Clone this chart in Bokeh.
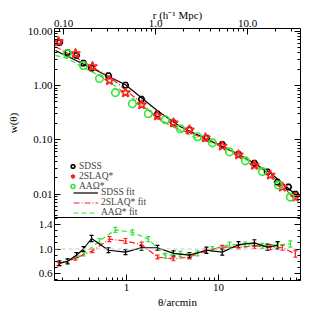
import math
from bokeh.plotting import figure
from bokeh.layouts import column
from bokeh.models import (LogAxis, LinearAxis, Range1d, LogScale, FixedTicker,
                          Legend, LegendItem, Span, Whisker, ColumnDataSource, Label, TeeHead)
from bokeh.embed import file_html
from bokeh.resources import INLINE

FONT = "Liberation Serif"
BLACK = "#000000"
RED = "#ff2020"
GREEN = "#33e633"

# ---------------- data ----------------
# SDSS
sdss_theta = [0.187, 0.229, 0.286, 0.341, 0.417, 0.637, 0.975, 1.456, 2.17, 3.24, 4.84,
              7.41, 11.0, 16.5, 24.6, 34.1, 43.8, 57.7, 68.7]
sdss_w = [6.2, 4.1, 3.6, 2.6, 2.1, 1.52, 1.02, 0.56, 0.30, 0.206, 0.153, 0.108, 0.082,
          0.054, 0.037, 0.0256, 0.0166, 0.0135, 0.0100]
sdss_ratio_theta = [0.187, 0.229, 0.286, 0.341, 0.417, 0.637, 0.975, 1.456, 2.17, 3.24,
                    4.84, 7.41, 11.0, 16.5, 24.6, 34.1, 43.8]
sdss_ratio = [0.77, 0.80, 0.90, 1.00, 1.17, 0.98, 0.95, 1.02, 1.02, 0.93, 0.90, 0.98, 0.95,
              1.07, 1.10, 1.03, 1.06]
sdss_ratio_err = [0.04, 0.04, 0.04, 0.04, 0.05, 0.04, 0.04, 0.04, 0.04, 0.04, 0.04, 0.05,
                  0.05, 0.05, 0.05, 0.05, 0.06]
sdss_fit_theta = [0.169, 0.406, 0.975, 2.17, 3.86, 8.18, 19.6, 36.7, 72.0]
sdss_fit_w = [4.45, 2.15, 1.04, 0.344, 0.174, 0.0958, 0.0464, 0.0245, 0.0092]

# 2SLAQ*
slaq_theta = [0.182, 0.279, 0.427, 0.653, 0.975, 1.46, 2.17, 3.24, 4.84, 7.22, 11.0, 16.5,
              24.6, 36.7, 49.6, 68.7]
slaq_w = [6.53, 3.91, 2.25, 1.24, 0.74, 0.445, 0.278, 0.206, 0.153, 0.109, 0.077, 0.053,
          0.034, 0.0225, 0.0135, 0.0088]
slaq_ratio = [0.76, 0.85, 0.97, 1.16, 1.13, 1.07, 0.87, 0.84, 0.87, 0.97, 1.03, 1.03, 1.05,
              1.03, 1.02, 0.92]
slaq_ratio_err = [0.03, 0.03, 0.03, 0.04, 0.04, 0.04, 0.03, 0.03, 0.03, 0.03, 0.03, 0.03,
                  0.04, 0.04, 0.04, 0.05]
slaq_fit_theta = [0.169, 0.279, 0.427, 0.653, 0.975, 1.46, 2.17, 3.24, 4.84, 7.22, 11.0, 16.5,
                  24.6, 36.7, 49.6, 68.7]
slaq_fit_w = [5.2, 3.32, 2.18, 1.44, 0.84, 0.476, 0.242, 0.173, 0.133, 0.106, 0.079, 0.055,
              0.036, 0.023, 0.0138, 0.0081]

# AAOmega*
aao_theta = [0.228, 0.341, 0.509, 0.759, 1.16, 1.73, 2.65, 3.86, 5.91, 8.59, 13.2, 19.6,
             30.0, 44.8, 60.5]
aao_w = [3.91, 2.35, 1.35, 0.742, 0.464, 0.303, 0.235, 0.160, 0.114, 0.088, 0.060, 0.041,
         0.026, 0.0147, 0.0088]
aao_ratio = [0.81, 0.92, 1.13, 1.31, 1.27, 1.16, 0.89, 0.92, 0.93, 1.00, 1.07, 1.07, 1.05,
             1.07, 1.08]
aao_ratio_err = [0.03, 0.03, 0.04, 0.04, 0.04, 0.04, 0.04, 0.04, 0.04, 0.04, 0.04, 0.04,
                 0.04, 0.05, 0.05]
aao_fit_theta = [0.169, 0.228, 0.341, 0.509, 0.759, 1.16, 1.73, 2.65, 3.86, 5.91, 8.59, 13.2,
                 19.6, 30.0, 44.8, 60.5]
aao_fit_w = [3.6, 3.17, 2.16, 1.53, 0.97, 0.59, 0.35, 0.209, 0.147, 0.106, 0.088, 0.064,
             0.044, 0.027, 0.0157, 0.0095]

# axes
theta_min, theta_max = 0.165, 78.0
theta_per_r = 2.07
w_min, w_max = 0.0037, 11.3
ratio_min, ratio_max = 0.49, 1.51
w_ticks = [0.01, 0.1, 1.0, 10.0]
w_tick_labels = ["0.01", "0.10", "1.00", "10.00"]
theta_ticks = [1.0, 10.0]
theta_tick_labels = ["1", "10"]
r_ticks = [0.1, 1.0, 10.0]
r_tick_labels = ["0.10", "1.0", "10.0"]
ratio_ticks = [0.6, 1.0, 1.4]
ratio_tick_labels = ["0.6", "1.0", "1.4"]


def log_minor(lo, hi):
    return [m * 10.0 ** e for e in range(lo, hi + 1) for m in range(2, 10)]


def style(ax, labels=True, ticks=None):
    ax.major_tick_in = 6
    ax.major_tick_out = 0
    ax.minor_tick_in = 3
    ax.minor_tick_out = 0
    ax.axis_line_color = "black"
    ax.major_tick_line_color = "black"
    ax.minor_tick_line_color = "black"
    ax.major_label_text_font = FONT
    ax.major_label_text_font_size = "11px"
    ax.major_label_text_color = "black"
    ax.axis_label_text_font = FONT
    ax.axis_label_text_font_size = "11px"
    ax.axis_label_text_font_style = "normal"
    ax.axis_label_text_color = "black"
    if not labels:
        ax.major_label_overrides = {t: "" for t in ticks}
        ax.major_label_text_font_size = "1px"
        ax.major_label_standoff = 0


# ---------------- top panel ----------------
x_range = Range1d(theta_min, theta_max)
top = figure(width=308, height=217, x_axis_type="log", y_axis_type="log",
             x_range=x_range, y_range=Range1d(w_min, w_max),
             x_axis_location=None, y_axis_location=None,
             output_backend="svg", toolbar_location=None,
             min_border_left=54, min_border_right=8, min_border_top=28, min_border_bottom=0)
top.extra_x_ranges = {"r": Range1d(theta_min / theta_per_r, theta_max / theta_per_r)}
top.extra_x_scales = {"r": LogScale()}
top.grid.visible = False
top.outline_line_color = None
top.background_fill_color = "white"

w_ticker = FixedTicker(ticks=w_ticks, minor_ticks=log_minor(-3, 1))
left = LogAxis(ticker=w_ticker, axis_label="w(θ)",
               major_label_overrides={t: l for t, l in zip(w_ticks, w_tick_labels)})
style(left)
left.major_label_standoff = 2
left.axis_label_standoff = 6
top.add_layout(left, "left")
right = LogAxis(ticker=FixedTicker(ticks=w_ticks, minor_ticks=log_minor(-3, 1)))
style(right, labels=False, ticks=w_ticks)
top.add_layout(right, "right")

above = LogAxis(x_range_name="r", axis_label="r (h⁻¹ Mpc)",
                ticker=FixedTicker(ticks=r_ticks, minor_ticks=log_minor(-2, 1)),
                major_label_overrides={t: l for t, l in zip(r_ticks, r_tick_labels)})
style(above)
above.major_label_standoff = 2
above.axis_label_standoff = -4
top.add_layout(above, "above")

s_sdss_fit = top.line(sdss_fit_theta, sdss_fit_w, line_color=BLACK, line_width=1.2)
s_slaq_fit = top.line(slaq_fit_theta, slaq_fit_w, line_color=RED, line_width=1.2, line_dash="6 2 1 2")
s_aao_fit = top.line(aao_fit_theta, aao_fit_w, line_color=GREEN, line_width=1.2, line_dash="5 3")

s_sdss = top.scatter(sdss_theta, sdss_w, marker="hex", size=6, fill_color=None,
                     line_color=BLACK, line_width=1.6)
s_slaq = top.scatter(slaq_theta, slaq_w, marker="star", size=10, fill_color=None,
                     line_color=RED, line_width=1.6)
s_aao = top.scatter(aao_theta, aao_w, marker="circle", size=7.5, fill_color=None,
                    line_color=GREEN, line_width=1.6)

leg_common = dict(border_line_alpha=0, background_fill_alpha=0, padding=0, margin=0,
                  label_text_font=FONT, label_text_font_size="9.5px")
pts_legend = Legend(items=[LegendItem(label="SDSS", renderers=[s_sdss]),
                           LegendItem(label="2SLAQ*", renderers=[s_slaq]),
                           LegendItem(label="AAΩ*", renderers=[s_aao])],
                    location=(13, 26), glyph_width=11, glyph_height=10, label_height=7,
                    label_standoff=1, spacing=-3, **leg_common)
fit_legend = Legend(items=[LegendItem(label="SDSS fit", renderers=[s_sdss_fit]),
                           LegendItem(label="2SLAQ* fit", renderers=[s_slaq_fit]),
                           LegendItem(label="AAΩ* fit", renderers=[s_aao_fit])],
                    location=(19, 0), glyph_width=25, glyph_height=7, label_height=7,
                    label_standoff=3, spacing=-4, **leg_common)
top.add_layout(pts_legend)
top.add_layout(fit_legend)

# ---------------- bottom panel ----------------
bot = figure(width=308, height=93, x_axis_type="log", x_range=x_range,
             y_range=Range1d(ratio_min, ratio_max),
             x_axis_location=None, y_axis_location=None,
             output_backend="svg", toolbar_location=None,
             min_border_left=54, min_border_right=8, min_border_top=0, min_border_bottom=30)
bot.grid.visible = False
bot.outline_line_color = "black"

below = LogAxis(axis_label="θ/arcmin",
                ticker=FixedTicker(ticks=theta_ticks, minor_ticks=log_minor(-1, 1)),
                major_label_overrides={t: l for t, l in zip(theta_ticks, theta_tick_labels)})
style(below)
below.major_label_standoff = 3
below.axis_label_standoff = 2
bot.add_layout(below, "below")

ratio_minor = [round(0.5 + 0.1 * i, 2) for i in range(11)]
bleft = LinearAxis(ticker=FixedTicker(ticks=ratio_ticks, minor_ticks=ratio_minor),
                   major_label_overrides={t: l for t, l in zip(ratio_ticks, ratio_tick_labels)})
style(bleft)
bleft.major_label_standoff = 2
bot.add_layout(bleft, "left")
bright = LinearAxis(ticker=FixedTicker(ticks=ratio_ticks, minor_ticks=ratio_minor))
style(bright, labels=False, ticks=ratio_ticks)
bot.add_layout(bright, "right")

bot.add_layout(Span(location=1.0, dimension="width", line_color="#c8c8c8",
                    line_dash="4 3", line_width=1))


def ratio_series(theta, ratio, err, color, dash):
    src = ColumnDataSource(dict(x=theta, y=ratio,
                                lo=[r - e for r, e in zip(ratio, err)],
                                hi=[r + e for r, e in zip(ratio, err)]))
    bot.add_layout(Whisker(source=src, base="x", lower="lo", upper="hi",
                           line_color=color, line_width=1.2,
                           lower_head=TeeHead(size=4, line_color=color, line_width=1.2),
                           upper_head=TeeHead(size=4, line_color=color, line_width=1.2)))
    bot.line("x", "y", source=src, line_color=color, line_width=1.2, line_dash=dash)


ratio_series(aao_theta, aao_ratio, aao_ratio_err, GREEN, "5 3")
ratio_series(slaq_theta, slaq_ratio, slaq_ratio_err, RED, "6 2 1 2")
ratio_series(sdss_ratio_theta, sdss_ratio, sdss_ratio_err, BLACK, "solid")

# rotated y-axis label with subscript
lab_common = dict(x_units="screen", y_units="screen", angle=math.pi / 2,
                  text_font=FONT, text_color="black", text_baseline="middle",
                  text_align="left")
bot.add_layout(Label(x=-39, y=7, text="w", text_font_size="11px", **lab_common))
bot.add_layout(Label(x=-36, y=15, text="HOD", text_font_size="7px", **lab_common))
bot.add_layout(Label(x=-39, y=30, text="/w(θ)", text_font_size="11px", **lab_common))

layout = column(top, bot, spacing=0)
open("out.html", "w").write(file_html(layout, INLINE))
